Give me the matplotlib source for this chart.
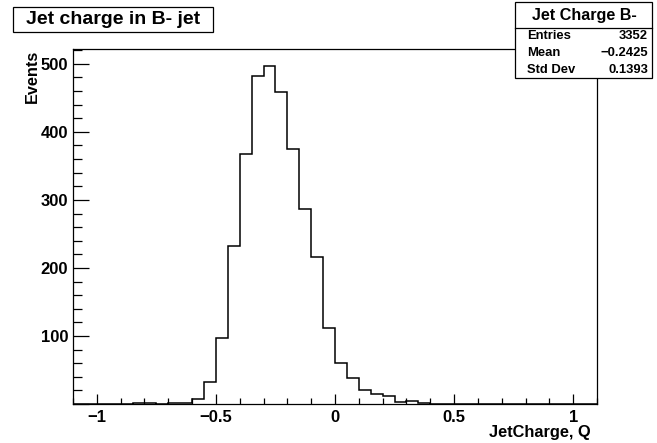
#!/usr/bin/env python3

import numpy as np
import matplotlib
matplotlib.use("Agg")
from matplotlib import pyplot as plt
from matplotlib.ticker import MultipleLocator
from matplotlib.patches import Rectangle

# Jet charge Q, 44 bins of width 0.05 between -1.1 and 1.1
bin_edges = np.linspace(-1.1, 1.1, 45)
counts = [0, 0, 0, 0, 0, 1, 1, 0, 1, 2,
		  7, 33, 97, 232, 368, 482, 497, 459, 375, 287,
		  216, 112, 60, 38, 21, 15, 12, 3, 5, 1,
		  0, 0, 0, 0, 0, 0, 0, 0, 0, 0,
		  0, 0, 0, 0]

hist_name = "Jet Charge B-"
title = "Jet charge in B- jet"
stat_labels = ["Entries", "Mean", "Std Dev"]
stat_values = ["3352", "\u22120.2425", "0.1393"]

W, H = 657, 443
plt.rcParams['font.family'] = ['Liberation Sans', 'DejaVu Sans']
plt.rcParams['font.weight'] = 'bold'

fig = plt.figure(figsize=(W/100, H/100), dpi=100, facecolor='white')

# frame in pixels: left 73, right 597, top 49, bottom 404
ax = fig.add_axes([73/W, (H-404)/H, (597-73)/W, (404-49)/H])
ax.stairs(counts, bin_edges, color='black', linewidth=1.1, baseline=0)
ax.set_xlim(-1.1, 1.1)
ax.set_ylim(0, max(counts)*1.05)

ax.xaxis.set_major_locator(MultipleLocator(0.5))
ax.xaxis.set_minor_locator(MultipleLocator(0.1))
ax.yaxis.set_major_locator(MultipleLocator(100))
ax.yaxis.set_minor_locator(MultipleLocator(20))
ax.xaxis.set_major_formatter(matplotlib.ticker.FuncFormatter(
	lambda v, p: ("%g" % v).replace("-", "\u2212")))
ax.yaxis.set_major_formatter(matplotlib.ticker.FuncFormatter(
	lambda v, p: "" if v == 0 else "%d" % v))

ax.tick_params(axis='x', which='major', direction='in', length=7.2, width=0.9,
			   labelsize=12, pad=4.5)
ax.tick_params(axis='x', which='minor', direction='in', length=4.3, width=0.9)
ax.tick_params(axis='y', which='major', direction='in', length=11.5, width=0.9,
			   labelsize=12, pad=3.5)
ax.tick_params(axis='y', which='minor', direction='in', length=6.5, width=0.9)
for lab in ax.get_xticklabels() + ax.get_yticklabels():
	lab.set_fontweight('bold')
for sp in ax.spines.values():
	sp.set_linewidth(0.9)

fig.text(591/W, 1-437/H, "JetCharge, Q", ha='right', va='baseline',
		 fontsize=11.8, fontweight='bold')
fig.text(32.5/W, 1-50/H, "Events", rotation=90, ha='center', va='top',
		 fontsize=11.7, fontweight='bold')

# overlay in pixel coordinates for the title and stats boxes
ov = fig.add_axes([0, 0, 1, 1], zorder=5)
ov.set_xlim(0, W)
ov.set_ylim(H, 0)
ov.axis('off')
ov.patch.set_alpha(0)

ov.add_patch(Rectangle((13, 7), 200, 25, facecolor='white', edgecolor='black', lw=0.9))
ov.text(113, 19.5, title, ha='center', va='center', fontsize=14, fontweight='bold')

bx0, bx1, by0, by1 = 515, 652, 2, 78
ov.add_patch(Rectangle((bx0, by0), bx1-bx0, by1-by0, facecolor='white',
					   edgecolor='black', lw=0.9))
ov.plot([bx0, bx1], [28, 28], color='black', lw=0.9)
ov.text((bx0+bx1)/2 + 1, 15, hist_name, ha='center', va='center', fontsize=11.6,
		fontweight='bold')
for i, (lab, val) in enumerate(zip(stat_labels, stat_values)):
	y = 36 + 17*i
	ov.text(bx0+12, y, lab, ha='left', va='center', fontsize=9.4, fontweight='bold')
	ov.text(bx1-4, y, val, ha='right', va='center', fontsize=9.4, fontweight='bold')

fig.savefig("out.png", dpi=100, facecolor='white')
